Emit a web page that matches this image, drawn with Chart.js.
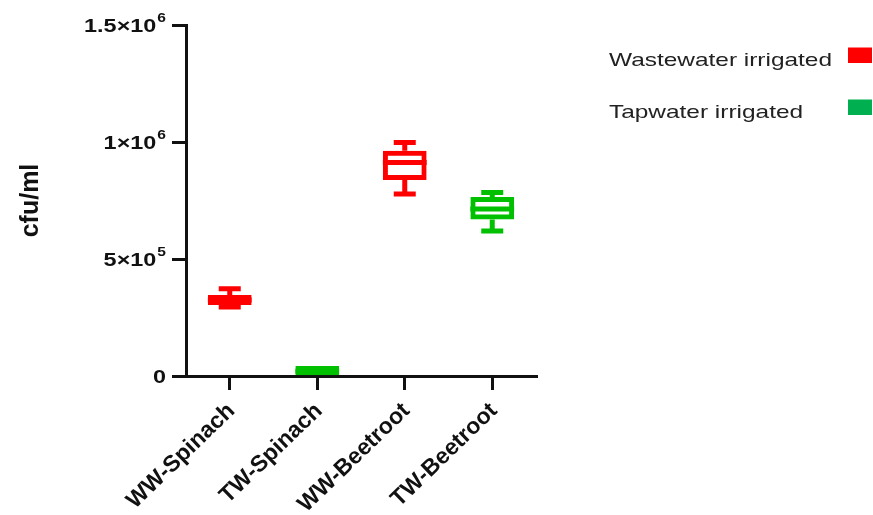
<!DOCTYPE html>
<html>
<head>
<meta charset="utf-8">
<title>cfu/ml box plot</title>
<script src="https://cdn.jsdelivr.net/npm/chart.js@4.4.0/dist/chart.umd.min.js"></script>
<style>
  html, body { margin: 0; padding: 0; background: #fff; }
  #wrap { position: relative; width: 873px; height: 515px; }
</style>
</head>
<body>
<div id="wrap"><canvas id="boxChart" width="873" height="515"></canvas></div>
<script>
// categories and box plot values (cfu/ml)
var categories = ['WW-Spinach', 'TW-Spinach', 'WW-Beetroot', 'TW-Beetroot'];
var minValues = [295000, 3000, 778000, 620000];
var q1Values = [303000, 3000, 838000, 669000];
var medianValues = [325000, 20000, 912000, 714000];
var q3Values = [346000, 43000, 963000, 765000];
var maxValues = [373000, 43000, 998000, 784000];
var boxColors = ['#ff0000', '#00c000', '#ff0000', '#00c000'];

// y axis ticks: value, mantissa text, exponent
var yTickValues = [0, 500000, 1000000, 1500000];
var yTickText = ['0', '5\u00d710', '1\u00d710', '1.5\u00d710'];
var yTickExp = ['', '5', '6', '6'];
var yTitle = 'cfu/ml';

var legendLabels = ['Wastewater irrigated', 'Tapwater irrigated'];
var legendColors = ['#ff0000', '#00b050'];

var capHalf = 11;

// medians and whiskers on top of the floating bars
var boxPlotLines = {
    id: 'boxPlotLines',
    afterDatasetsDraw: function(chart) {
        var ctx = chart.ctx;
        var xs = chart.scales.x, ys = chart.scales.y;
        var bars = chart.getDatasetMeta(0).data;
        ctx.save();
        ctx.lineWidth = 5;
        ctx.lineCap = 'butt';
        categories.forEach(function(c, i) {
            var cx = xs.getPixelForValue(i);
            var half = bars[i].width / 2;
            ctx.strokeStyle = boxColors[i];
            ctx.beginPath();
            var ym = ys.getPixelForValue(medianValues[i]);
            ctx.moveTo(cx - half, ym);
            ctx.lineTo(cx + half, ym);
            if (maxValues[i] > q3Values[i]) {
                var yt = ys.getPixelForValue(q3Values[i]);
                var yw = ys.getPixelForValue(maxValues[i]);
                ctx.moveTo(cx, yt);
                ctx.lineTo(cx, yw);
                ctx.moveTo(cx - capHalf, yw);
                ctx.lineTo(cx + capHalf, yw);
            }
            if (minValues[i] < q1Values[i]) {
                var yb = ys.getPixelForValue(q1Values[i]);
                var yl = ys.getPixelForValue(minValues[i]);
                ctx.moveTo(cx, yb);
                ctx.lineTo(cx, yl);
                ctx.moveTo(cx - capHalf, yl);
                ctx.lineTo(cx + capHalf, yl);
            }
            ctx.stroke();
        });
        ctx.restore();
    }
};

function wideText(ctx, text, x, y, font, align, sx) {
    ctx.save();
    ctx.translate(x, y);
    ctx.scale(sx, 1);
    ctx.font = font;
    ctx.textAlign = align;
    ctx.textBaseline = 'alphabetic';
    ctx.fillText(text, 0, 0);
    ctx.restore();
}

// tick labels, axis title and legend
var chartText = {
    id: 'chartText',
    afterDraw: function(chart) {
        var ctx = chart.ctx;
        var xs = chart.scales.x, ys = chart.scales.y;
        var sx = 1.3;
        ctx.save();
        ctx.fillStyle = '#111';

        // y tick labels with superscript exponent
        var right = 166;
        yTickValues.forEach(function(v, i) {
            var py = ys.getPixelForValue(v);
            var expW = 0;
            if (yTickExp[i]) {
                ctx.font = 'bold 12px Arial, "Liberation Sans", sans-serif';
                expW = ctx.measureText(yTickExp[i]).width * sx;
                wideText(ctx, yTickExp[i], right, py - 3.5, ctx.font, 'right', sx);
                expW += 1;
            }
            wideText(ctx, yTickText[i], right - expW, py + 6.5,
                'bold 18px Arial, "Liberation Sans", sans-serif', 'right', sx);
        });

        // x tick labels, rotated
        categories.forEach(function(c, i) {
            var px = xs.getPixelForValue(i);
            ctx.save();
            ctx.translate(px + 6, 412);
            ctx.rotate(-44 * Math.PI / 180);
            ctx.font = 'bold 23px Arial, "Liberation Sans", sans-serif';
            ctx.textAlign = 'right';
            ctx.textBaseline = 'alphabetic';
            ctx.fillText(c, 0, 0);
            ctx.restore();
        });

        // y axis title
        ctx.save();
        ctx.translate(38, (chart.chartArea.top + chart.chartArea.bottom) / 2);
        ctx.rotate(-Math.PI / 2);
        ctx.font = 'bold 25px Arial, "Liberation Sans", sans-serif';
        ctx.textAlign = 'center';
        ctx.textBaseline = 'alphabetic';
        ctx.fillText(yTitle, 0, 0);
        ctx.restore();

        // legend: label then swatch on the right
        legendLabels.forEach(function(lab, i) {
            var base = 66 + i * 52;
            ctx.fillStyle = '#222';
            wideText(ctx, lab, 609, base, '18.5px Arial, "Liberation Sans", sans-serif', 'left', 1.32);
            ctx.fillStyle = legendColors[i];
            ctx.fillRect(848, base - 18.5, 24, 15.5);
        });
        ctx.restore();
    }
};

var axisGrid = {
    display: true,
    drawOnChartArea: false,
    drawTicks: true,
    tickLength: 14,
    lineWidth: 3,
    color: '#111'
};

var ctx = document.getElementById('boxChart').getContext('2d');
var boxChart = new Chart(ctx, {
    type: 'bar',
    data: {
        labels: categories,
        datasets: [{
            label: 'cfu/ml',
            data: categories.map(function(c, i) { return [q1Values[i], q3Values[i]]; }),
            backgroundColor: 'rgba(0,0,0,0)',
            borderColor: boxColors,
            borderWidth: 5,
            borderSkipped: false,
            barPercentage: 0.5,
            categoryPercentage: 1
        }]
    },
    options: {
        responsive: false,
        animation: false,
        layout: { padding: { left: 0, right: 337, top: 25, bottom: 0 } },
        plugins: {
            legend: { display: false },
            tooltip: { enabled: false }
        },
        scales: {
            x: {
                offset: true,
                grid: Object.assign({}, axisGrid, { offset: false }),
                border: { display: true, width: 3, color: '#111' },
                ticks: { display: false },
                afterFit: function(scale) { scale.height = 139; }
            },
            y: {
                min: 0,
                max: 1500000,
                ticks: { display: false, stepSize: 500000 },
                grid: axisGrid,
                border: { display: true, width: 3, color: '#111' },
                afterFit: function(scale) { scale.width = 186; }
            }
        }
    },
    plugins: [boxPlotLines, chartText]
});
</script>
</body>
</html>
